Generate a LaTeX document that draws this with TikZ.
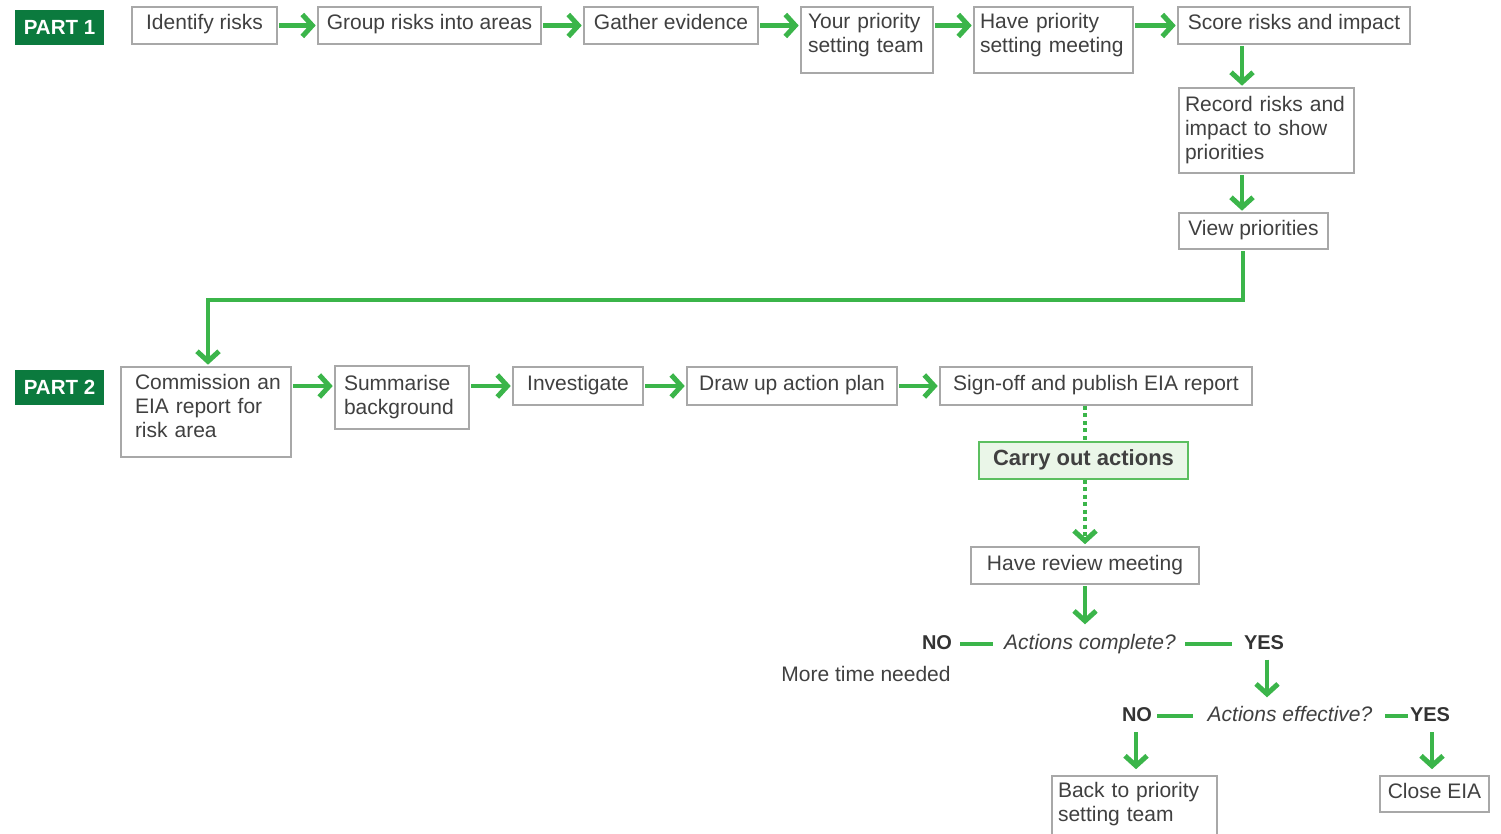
\documentclass[tikz,border=0pt]{standalone}
\usepackage{fontspec}
\setmainfont{Liberation Sans}
\usetikzlibrary{arrows.meta}
\definecolor{agreen}{HTML}{3BB54A}
\definecolor{dgreen}{HTML}{0B7A3E}
\definecolor{txt}{HTML}{404040}
\definecolor{bord}{HTML}{A8A8A8}
\definecolor{lgreen}{HTML}{EAF6E8}
\definecolor{cgreen}{HTML}{5CBF60}
\newcommand\lowstrut[1]{\rule[-#1]{0pt}{#1}}
\begin{document}
\begin{tikzpicture}[x=1pt,y=-1pt,
 every node/.style={text=txt, font=\fontsize{21}{24}\selectfont},
 box/.style={draw=bord, line width=1.6pt, fill=white, inner xsep=7pt, inner ysep=0pt, align=center},
 sbox/.style={box, text height=15.5pt, text depth=6.5pt},
 mbox/.style={box, align=left},
 part/.style={fill=dgreen, text=white, font=\fontsize{20.5}{24}\selectfont\bfseries, minimum width=89pt, minimum height=35pt, inner sep=0pt},
 tip/.style={-{Straight Barb[length=10pt,width=22pt,line width=5pt]}},
 arr/.style={draw=agreen, line width=4.5pt, tip, shorten <=1.5pt, shorten >=1.5pt},
 dotl/.style={draw=agreen, line width=4pt, dash pattern=on 4pt off 3.5pt},
 gline/.style={draw=agreen, line width=4pt},
 lab/.style={inner sep=0pt, text height=15pt, text depth=4pt},
 yn/.style={lab, font=\fontsize{20}{24}\selectfont\bfseries, text=black!80},
 q/.style={lab, font=\fontsize{21}{24}\selectfont\itshape}]
\useasboundingbox (0,0) rectangle (1501,834);
\clip (0,0) rectangle (1501,834);

% PART 1
\node[part] (p1) at (59.5,27.5) {PART 1};
\node[sbox, minimum width=145pt, minimum height=37pt] (n1) at (204.5,25.5) {Identify risks};
\node[sbox, minimum width=223pt, minimum height=37pt] (n2) at (429.5,25.5) {Group risks into areas};
\node[sbox, minimum width=174pt, minimum height=37pt] (n3) at (671,25.5) {Gather evidence};
\node[mbox, minimum width=132pt, minimum height=66pt, text width=118pt] (n4) at (867,40) {Your priority\\setting team\lowstrut{14.4pt}};
\node[mbox, minimum width=159pt, minimum height=66pt, inner xsep=6pt, text width=147pt] (n5) at (1053.5,40) {Have priority\\setting meeting\lowstrut{14.4pt}};
\node[sbox, minimum width=232pt, minimum height=37pt] (n6) at (1294,25.5) {Score risks and impact};
\node[mbox, minimum width=175pt, minimum height=85pt, inner xsep=6pt, text width=163pt] (n7) at (1266.5,130.5) {Record risks and\\impact to show\\priorities};
\node[sbox, minimum width=149pt, minimum height=36pt] (n8) at (1253.5,231) {View priorities};

\draw[arr] (n1.east) -- (n2.west);
\draw[arr] (n2.east) -- (n3.west);
\draw[arr] (n3.east) -- (n3.east -| n4.west);
\draw[arr] (n3.east -| n4.east) -- (n3.east -| n5.west);
\draw[arr] (n6.west -| n5.east) -- (n6.west);
\draw[arr] ([xshift=-52pt]n6.south) -- ([xshift=-52pt]n6.south |- n7.north);
\draw[arr] ([xshift=-24.5pt]n7.south) -- ([xshift=-24.5pt]n7.south |- n8.north);

% PART 2
\node[part] (p2) at (59.5,387.5) {PART 2};
\node[mbox, minimum width=170pt, minimum height=90pt, inner xsep=9pt, text width=152pt] (c1) at (206,412) {\hspace*{5pt}Commission an\\\hspace*{5pt}EIA report for\\\hspace*{5pt}risk area\lowstrut{12pt}};
\node[mbox, minimum width=134pt, minimum height=63pt, inner xsep=9pt, text width=116pt] (c2) at (402,397.5) {Summarise\\background};
\node[sbox, minimum width=130pt, minimum height=38pt] (c3) at (578,386) {Investigate};
\node[sbox, minimum width=210pt, minimum height=38pt] (c4) at (792,386) {Draw up action plan};
\node[sbox, minimum width=312pt, minimum height=38pt] (c5) at (1096,386) {Sign-off and publish EIA report};
\node[sbox, draw=cgreen, line width=1.3pt, fill=lgreen, font=\fontsize{22}{24}\selectfont\bfseries, minimum width=209pt, minimum height=37pt] (carry) at (1083.5,460.5) {Carry out actions};
\node[sbox, minimum width=228pt, minimum height=37pt] (rev) at (1085,565.5) {Have review meeting};

\coordinate (bend) at (208,300);
\draw[arr] ([xshift=-10.5pt]n8.south) |- (bend) -- (bend |- c1.north);

\draw[arr] (c3.west -| c1.east) -- (c3.west -| c2.west);
\draw[arr] (c3.west -| c2.east) -- (c3.west);
\draw[arr] (c3.east) -- (c4.west);
\draw[arr] (c4.east) -- (c5.west);

\draw[dotl] ([xshift=-11pt]c5.south) -- ([xshift=-11pt]c5.south |- carry.north);
\draw[dotl, tip, shorten >=2pt] ([xshift=1.5pt]carry.south) -- ([xshift=1.5pt]carry.south |- rev.north);

% decisions
\node[q] (ac) at (1090,644) {Actions complete?};
\node[yn] (no1) at (937,644) {NO};
\node[yn] (yes1) at (1264,644) {YES};
\node[lab] (mt) at (866,676) {More time needed};
\draw[arr, shorten >=10pt] (rev.south) -- (rev.south |- ac.north);
\draw[gline, shorten <=8pt, shorten >=11pt] (no1.east) -- (ac.west);
\draw[gline, shorten <=9pt, shorten >=12pt] (ac.east) -- (yes1.west);

\node[q] (ae) at (1290,716) {Actions effective?};
\node[yn] (no2) at (1137,716) {NO};
\node[yn] (yes2) at (1430,716) {YES};
\draw[arr, shorten <=6pt, shorten >=9pt] ([xshift=3pt]yes1.south) -- ([xshift=3pt]yes1.south |- ae.north);
\draw[gline, shorten <=5pt, shorten >=14.5pt] (no2.east) -- (ae.west);
\draw[gline, shorten <=12.5pt, shorten >=2pt] (ae.east) -- (yes2.west);

\node[mbox, minimum width=165pt, minimum height=74pt, inner xsep=6pt, text width=153pt] (back) at (1134.5,813) {Back to priority\\setting team\lowstrut{22.4pt}};
\node[sbox, minimum width=109pt, minimum height=36pt] (close) at (1434.5,794) {Close EIA};

\draw[arr, shorten <=6.5pt, shorten >=6pt] ([xshift=-1pt]no2.south) -- ([xshift=-1pt]no2.south |- back.north);
\draw[arr, shorten <=6.5pt, shorten >=6pt] ([xshift=2pt]yes2.south) -- ([xshift=2pt]yes2.south |- close.north);
\end{tikzpicture}
\end{document}
